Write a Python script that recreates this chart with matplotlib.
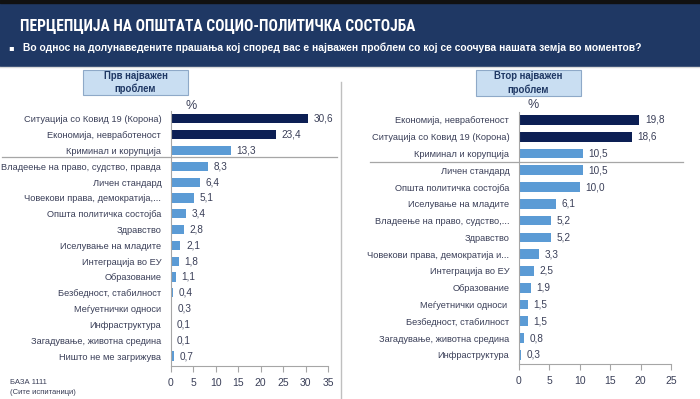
import matplotlib
matplotlib.use("Agg")
import matplotlib.pyplot as plt
from matplotlib import font_manager
from matplotlib.patches import Rectangle
from matplotlib.lines import Line2D

W, H = 700, 399

title = "ПЕРЦЕПЦИЈА НА ОПШТАТА СОЦИО-ПОЛИТИЧКА СОСТОЈБА"
subtitle = "Во однос на долунаведените прашања кој според вас е најважен проблем со кој се соочува нашата земја во моментов?"

cats1 = ["Ситуација со Ковид 19 (Корона)", "Економија, невработеност", "Криминал и корупција",
         "Владеење на право, судство, правда", "Личен стандард", "Човекови права, демократија,...",
         "Општа политичка состојба", "Здравство", "Иселување на младите", "Интеграција во ЕУ",
         "Образование", "Безбедност, стабилност", "Меѓуетнички односи", "Инфраструктура",
         "Загадување, животна средина", "Ништо не ме загрижува"]
vals1 = [30.6, 23.4, 13.3, 8.3, 6.4, 5.1, 3.4, 2.8, 2.1, 1.8, 1.1, 0.4, 0.3, 0.1, 0.1, 0.7]
ticks1 = [0, 5, 10, 15, 20, 25, 30, 35]

cats2 = ["Економија, невработеност", "Ситуација со Ковид 19 (Корона)", "Криминал и корупција",
         "Личен стандард", "Општа политичка состојба", "Иселување на младите",
         "Владеење на право, судство,...", "Здравство", "Човекови права, демократија и...",
         "Интеграција во ЕУ", "Образование", "Меѓуетнички односи ", "Безбедност, стабилност",
         "Загадување, животна средина", "Инфраструктура"]
vals2 = [19.8, 18.6, 10.5, 10.5, 10.0, 6.1, 5.2, 5.2, 3.3, 2.5, 1.9, 1.5, 1.5, 0.8, 0.3]
ticks2 = [0, 5, 10, 15, 20, 25]

box1 = "Прв најважен\nпроблем"
box2 = "Втор најважен\nпроблем"
base_lines = ["БАЗА 1111", "(Сите испитаници)"]

NAVY = "#1F3864"
DARK = "#0C1F54"
LIGHT = "#5B9BD5"
TXT = "#3A3F58"
GRID = "#A6A6A6"

plt.rcParams['font.family'] = ['Liberation Sans', 'DejaVu Sans']

available = {f.name for f in font_manager.fontManager.ttflist}
title_font = 'Liberation Sans'
for cand in ['Liberation Sans Narrow', 'Roboto Condensed', 'Open Sans Condensed', 'Noto Sans Condensed']:
    if cand in available:
        title_font = cand
        break

fig = plt.figure(figsize=(W / 100, H / 100), dpi=100)
fig.patch.set_facecolor("white")


def fx(x):
    return x / W


def fy(y):
    return 1 - y / H


# header
fig.add_artist(Rectangle((0, fy(66)), 1, 66 / H, transform=fig.transFigure, color=NAVY, zorder=0))
fig.add_artist(Rectangle((0, fy(3)), 1, 3 / H, transform=fig.transFigure, color="#111111", zorder=1))
t = fig.text(fx(20), fy(27), title, color="white", fontsize=13.5, fontweight="bold",
             family=[title_font, 'DejaVu Sans'], va="center", ha="left")
# fit title width close to the reference
renderer = fig.canvas.get_renderer()
wpx = t.get_window_extent(renderer).width
if wpx > 410:
    t.set_fontsize(13.5 * 400 / wpx)
fig.text(fx(8), fy(48), "▪", color="white", fontsize=6, va="center", ha="left", family=['DejaVu Sans'])
fig.text(fx(23), fy(48), subtitle, color="white", fontsize=7.4, fontweight="bold", va="center", ha="left")
fig.add_artist(Line2D([0, 1], [fy(67), fy(67)], transform=fig.transFigure, color="#D9D9D9", lw=1))

# vertical divider
fig.add_artist(Line2D([fx(341), fx(341)], [fy(82), fy(399)], transform=fig.transFigure, color="#BFBFBF", lw=1))


def panel(cats, vals, ticks, x0, x1, ytop, ybot, step_top, step_bot, sep_x, sep_y, box, box_rect, pct_xy):
    n = len(cats)
    ax = fig.add_axes([fx(x0), fy(ybot), fx(x1 - x0), (ybot - ytop) / H])
    ys = list(range(n))
    colors = [DARK if i < 2 else LIGHT for i in range(n)]
    ax.barh(ys, vals, height=0.58, color=colors)
    ax.set_xlim(ticks[0], ticks[-1])
    ax.set_ylim(n - 1 + step_bot, -step_top)
    ax.set_xticks(ticks)
    ax.set_xticklabels([str(t) for t in ticks], fontsize=7.5, color=TXT)
    ax.set_yticks(ys)
    ax.set_yticklabels(cats, fontsize=6.7, color=TXT)
    ax.tick_params(axis="y", length=0, pad=7)
    ax.tick_params(axis="x", length=4, width=0.8, color=GRID, pad=5, direction="out")
    for s in ["top", "right"]:
        ax.spines[s].set_visible(False)
    for s in ["left", "bottom"]:
        ax.spines[s].set_color(GRID)
        ax.spines[s].set_linewidth(0.8)
    for y, v in zip(ys, vals):
        ax.annotate(f"{v:.1f}".replace(".", ","), (v, y), xytext=(4, 0), textcoords="offset points",
                    va="center", ha="left", fontsize=7.2, color=TXT)
    fig.add_artist(Line2D([fx(sep_x[0]), fx(sep_x[1])], [fy(sep_y), fy(sep_y)],
                          transform=fig.transFigure, color=GRID, lw=0.9))
    bx0, by0, bx1, by1 = box_rect
    fig.add_artist(Rectangle((fx(bx0), fy(by1)), fx(bx1 - bx0), (by1 - by0) / H, transform=fig.transFigure,
                             facecolor="#C9DEF2", edgecolor="#8EA9C8", lw=0.8))
    fig.text(fx((bx0 + bx1) / 2), fy((by0 + by1) / 2), box, ha="center", va="center", fontsize=6.9,
             fontweight="bold", color=NAVY, linespacing=1.3)
    fig.text(fx(pct_xy[0]), fy(pct_xy[1]), "%", ha="center", va="center", fontsize=9, color=TXT)
    return ax


panel(cats1, vals1, ticks1, 171, 328, 111, 366, 0.5, 0.63, (2, 337), 157, box1, (83, 70, 188, 95), (191, 106))
panel(cats2, vals2, ticks2, 519, 671, 111.5, 364, 0.5, 0.54, (370, 683), 162, box2, (476, 70, 581, 96), (533, 105))

fig.text(fx(10), fy(383), base_lines[0], fontsize=5.5, color=TXT, va="center", ha="left")
fig.text(fx(10), fy(393), base_lines[1], fontsize=5.5, color=TXT, va="center", ha="left")

fig.savefig("out.png", dpi=100, facecolor="white")
